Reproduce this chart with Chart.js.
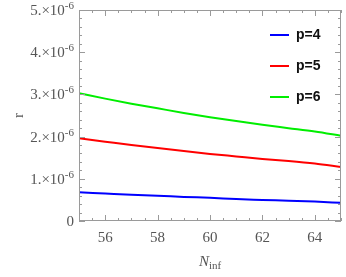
<!DOCTYPE html>
<html>
<head>
<meta charset="utf-8">
<script src="https://cdn.jsdelivr.net/npm/chart.js@4.4.1/dist/chart.umd.min.js"></script>
<style>
  html, body { margin: 0; padding: 0; background: #fff; }
  #wrap { width: 346px; height: 277px; position: relative; }
</style>
</head>
<body>
<div id="wrap"><canvas id="c" width="346" height="277"></canvas></div>
<script>
/* ---- données ---- */
const N_INF   = [55, 56, 57, 58, 59, 60, 61, 62, 63, 64, 65];
const R_P4    = [0.68, 0.65, 0.62, 0.60, 0.57, 0.55, 0.52, 0.50, 0.48, 0.46, 0.43];
const R_P5    = [1.96, 1.88, 1.80, 1.73, 1.66, 1.59, 1.53, 1.47, 1.42, 1.36, 1.28];
const R_P6    = [3.03, 2.90, 2.78, 2.67, 2.56, 2.46, 2.37, 2.28, 2.20, 2.12, 2.02];
const X_TICKS = [56, 58, 60, 62, 64];
const Y_TICKS = [0, 1, 2, 3, 4, 5];
const LABELS  = ['p=4', 'p=5', 'p=6'];
const COLORS  = ['#0000ff', '#ff0000', '#00ee00'];

const SCALE = 1e-6;
const toPts = arr => N_INF.map((n, i) => ({ x: n, y: arr[i] * SCALE }));

const FRAME = '#9a9a9a';
const TXT   = '#555555';
const SERIF = '"Liberation Serif", "DejaVu Serif", serif';

/* cadre + graduations intérieures (style Mathematica) */
const framePlugin = {
  id: 'frame',
  afterDraw(chart) {
    const { ctx, chartArea: a, scales: { x, y } } = chart;
    ctx.save();
    ctx.strokeStyle = FRAME;
    ctx.lineWidth = 1;
    ctx.strokeRect(a.left + 0.5, a.top + 0.5, a.right - a.left - 1, a.bottom - a.top - 1);

    ctx.beginPath();
    for (let v = 55; v <= 65.001; v += 0.5) {
      const px = Math.round(x.getPixelForValue(v)) + 0.5;
      const len = (Math.abs(v % 2) < 1e-6) ? 6 : 3;
      ctx.moveTo(px, a.bottom); ctx.lineTo(px, a.bottom - len);
      ctx.moveTo(px, a.top);    ctx.lineTo(px, a.top + len);
    }
    for (let v = 0; v <= 5.001; v += 0.2) {
      const py = Math.round(y.getPixelForValue(v * SCALE)) + 0.5;
      const major = Math.abs(v - Math.round(v)) < 1e-6;
      const len = major ? 6 : 3;
      ctx.moveTo(a.left, py);  ctx.lineTo(a.left + len, py);
      ctx.moveTo(a.right, py); ctx.lineTo(a.right - len, py);
    }
    ctx.stroke();

    /* étiquettes de l'axe y : "k.×10^-6" avec exposant */
    ctx.fillStyle = TXT;
    ctx.textBaseline = 'alphabetic';
    Y_TICKS.forEach(k => {
      const py = y.getPixelForValue(k * SCALE);
      const xr = a.left - 5;
      if (k === 0) {
        ctx.font = '15px ' + SERIF;
        ctx.textAlign = 'right';
        ctx.fillText('0', xr, py + 5);
        return;
      }
      ctx.font = '11px ' + SERIF;
      ctx.textAlign = 'right';
      ctx.fillText('-6', xr, py - 1);
      const wSup = ctx.measureText('-6').width;
      ctx.font = '15px ' + SERIF;
      ctx.fillText(k + '.\u00d710', xr - wSup, py + 5);
    });
    ctx.textAlign = 'left';

    /* légende à l'intérieur */
    ctx.textBaseline = 'middle';
    ctx.font = 'bold 14px "Liberation Sans", Arial, sans-serif';
    LABELS.forEach((lab, i) => {
      const ly = 35 + i * 31;
      ctx.strokeStyle = COLORS[i];
      ctx.lineWidth = 2;
      ctx.beginPath();
      ctx.moveTo(270, ly); ctx.lineTo(289, ly);
      ctx.stroke();
      ctx.fillStyle = '#111';
      ctx.fillText(lab, 296, ly);
    });

    /* titre axe x : N_inf */
    ctx.fillStyle = TXT;
    ctx.textBaseline = 'alphabetic';
    ctx.font = 'italic 15px ' + SERIF;
    const wN = ctx.measureText('N').width;
    ctx.font = '11px ' + SERIF;
    const wI = ctx.measureText('inf').width;
    const x0 = 210 - (wN + wI) / 2;
    ctx.font = 'italic 15px ' + SERIF;
    ctx.fillText('N', x0, 266);
    ctx.font = '11px ' + SERIF;
    ctx.fillText('inf', x0 + wN, 269);
    ctx.restore();
  }
};

new Chart(document.getElementById('c'), {
  type: 'line',
  data: {
    datasets: [R_P4, R_P5, R_P6].map((arr, i) => ({
      label: LABELS[i],
      data: toPts(arr),
      borderColor: COLORS[i],
      borderWidth: 2,
      pointRadius: 0,
      cubicInterpolationMode: 'monotone',
      fill: false,
    })),
  },
  options: {
    responsive: false,
    animation: false,
    layout: { padding: { top: 10, right: 5, left: 10, bottom: 0 } },
    plugins: { legend: { display: false }, tooltip: { enabled: false } },
    scales: {
      x: {
        type: 'linear',
        min: 55, max: 65,
        afterBuildTicks: s => { s.ticks = X_TICKS.map(v => ({ value: v })); },
        afterFit: s => { s.height = 56; },
        grid: { display: false, drawTicks: false },
        border: { display: false },
        ticks: { color: TXT, padding: 8, font: { family: SERIF, size: 15 } },
      },
      y: {
        type: 'linear',
        min: 0, max: 5 * SCALE,
        afterBuildTicks: s => { s.ticks = Y_TICKS.map(v => ({ value: v * SCALE })); },
        afterFit: s => { s.width = 69; },
        grid: { display: false, drawTicks: false },
        border: { display: false },
        ticks: { display: false },
        title: { display: true, text: 'r', color: TXT, padding: 0, font: { family: SERIF, size: 15 } },
      },
    },
  },
  plugins: [framePlugin],
});
</script>
</body>
</html>
